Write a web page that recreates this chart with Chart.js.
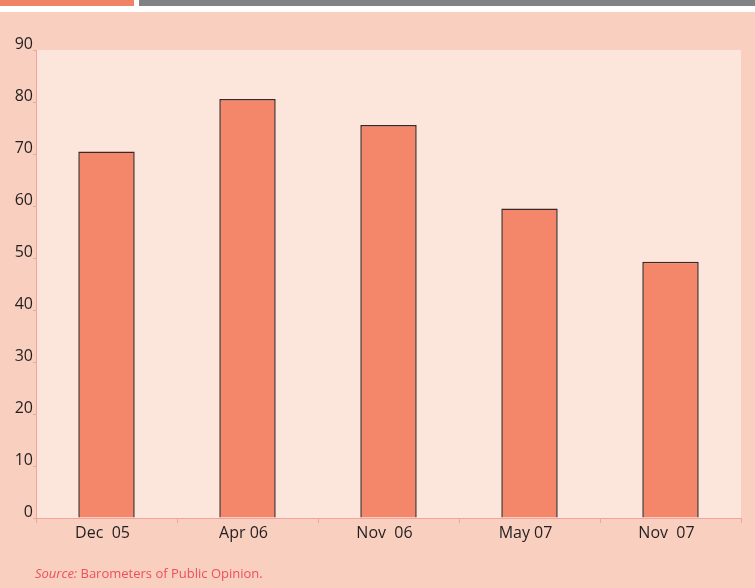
<!DOCTYPE html>
<html>
<head>
<meta charset="utf-8">
<script src="https://cdn.jsdelivr.net/npm/chart.js@4"></script>
<style>
  html, body { margin: 0; padding: 0; background: #fff; }
  #wrap { position: relative; width: 755px; height: 588px; overflow: hidden; }
  .bar-top { position: absolute; top: 0; height: 6px; }
  #panel { position: absolute; left: 0; top: 12px; width: 755px; height: 576px; background: #F9CFBF; }
  #chart { position: absolute; left: 0; top: 0; }
  #source { position: absolute; left: 35px; top: 564px; font-family: "Open Sans", sans-serif; font-size: 13px; color: #EE4F5B; }
</style>
</head>
<body>
<div id="wrap">
  <div class="bar-top" style="left:0;width:134px;background:#F08366"></div>
  <div class="bar-top" style="left:139px;width:616px;background:#808285"></div>
  <div id="panel"></div>
  <canvas id="chart" width="755" height="588"></canvas>
  <div id="source"><i>Source:</i> Barometers of Public Opinion.</div>
</div>
<script>
// chart data
const categories = ['Dec  05', 'Apr 06', 'Nov  06', 'May 07', 'Nov  07'];
const values = [70.5, 80.6, 75.6, 59.5, 49.3];
const yTicks = [0, 10, 20, 30, 40, 50, 60, 70, 80, 90];

const plotBg = {
    id: 'plotBg',
    beforeDraw(chart) {
        const { ctx, chartArea: a } = chart;
        ctx.save();
        ctx.fillStyle = '#FCE5DA';
        ctx.fillRect(a.left, a.top, a.right - a.left, a.bottom - a.top);
        ctx.restore();
    }
};

new Chart(document.getElementById('chart'), {
    type: 'bar',
    data: {
        labels: categories,
        datasets: [{
            data: values,
            backgroundColor: '#F4866A',
            borderColor: '#3a2727',
            borderWidth: 1.5,
            borderSkipped: 'bottom',
            categoryPercentage: 1,
            barPercentage: 0.4
        }]
    },
    options: {
        responsive: false,
        animation: false,
        layout: { padding: { top: 50, right: 14, left: 0, bottom: 0 } },
        plugins: { legend: { display: false }, tooltip: { enabled: false } },
        scales: {
            x: {
                grid: { offset: true, drawOnChartArea: false, color: '#F2A3A0', tickLength: 5 },
                border: { color: '#F2A3A0' },
                ticks: { color: '#231F20', font: { family: '"Open Sans", sans-serif', size: 16 }, padding: 1, maxRotation: 0, labelOffset: -4 },
                afterFit(scale) { scale.height = 70; }
            },
            y: {
                min: 0,
                max: 90,
                afterBuildTicks(scale) { scale.ticks = yTicks.map(v => ({ value: v })); },
                grid: { drawOnChartArea: false, color: '#F2A3A0', tickLength: 3 },
                border: { color: '#F2A3A0' },
                ticks: { color: '#231F20', font: { family: '"Open Sans", sans-serif', size: 16 }, padding: 0, labelOffset: -6 },
                afterFit(scale) { scale.width = 36; }
            }
        }
    },
    plugins: [plotBg]
});
</script>
</body>
</html>
